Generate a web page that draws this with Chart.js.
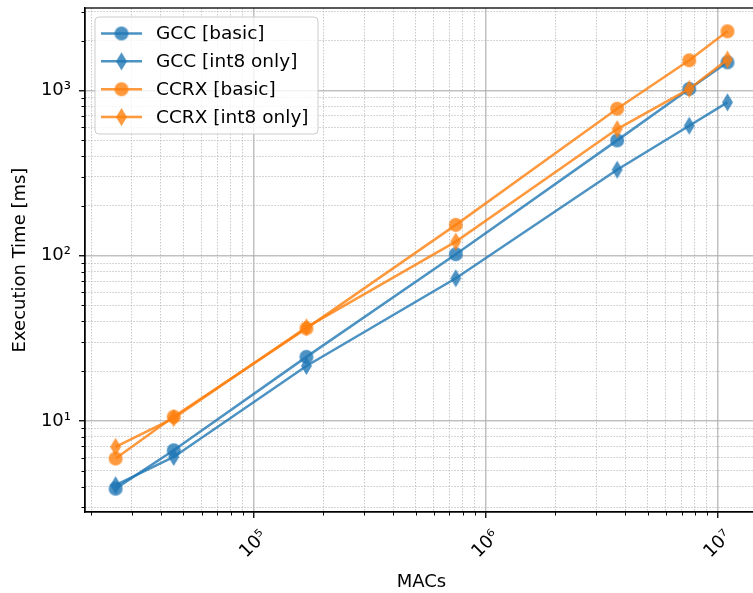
<!DOCTYPE html>
<html><head><meta charset="utf-8">
<script src="https://cdn.jsdelivr.net/npm/chart.js@4"></script>
<style>
html,body{margin:0;padding:0;overflow:hidden;background:#fff;width:753px;height:593px}
#wrap{width:765px;height:593px}
</style></head>
<body><div id="wrap"><canvas id="c" width="765" height="593"></canvas></div>
<script>
// ---- data ----
const macs      = [25500, 45400, 169400, 745700, 3696000, 7557000, 11040000];
const gccBasic  = [3.89, 6.64, 24.4, 102, 498, 1020, 1478];
const gccInt8   = [4.08, 6.05, 21.5, 72.9, 331, 611, 846];
const ccrxBasic = [5.92, 10.6, 36.3, 153.5, 774, 1520, 2278];
const ccrxInt8  = [6.96, 10.4, 36.8, 121.6, 583, 1020, 1535];
const seriesNames = ['GCC [basic]', 'GCC [int8 only]', 'CCRX [basic]', 'CCRX [int8 only]'];
const xTitle = 'MACs';
const yTitle = 'Execution Time [ms]';
const xRange = [18830, 14950000];
const yRange = [2.81, 3150];

// ---- styling ----
const BLUE = 'rgba(31,119,180,0.8)';
const ORANGE = 'rgba(255,127,14,0.8)';
const FONT = 'DejaVu Sans';
const SUP = '⁰¹²³⁴⁵⁶⁷⁸⁹';

function isMajor(v){ const l = Math.log10(v); return Math.abs(l - Math.round(l)) < 1e-9; }
function supLabel(v){ const e = Math.round(Math.log10(v)); return '10' + String(e).split('').map(c => SUP[+c]).join(''); }
function logTicks(min, max){
  const out = [];
  for (let e = Math.floor(Math.log10(min)); e <= Math.ceil(Math.log10(max)); e++){
    for (let k = 1; k <= 9; k++){
      const v = k * Math.pow(10, e);
      if (v >= min && v <= max) out.push({value: v, major: k === 1});
    }
  }
  return out;
}
function circleImg(color, d){
  const c = document.createElement('canvas'); c.width = d + 2; c.height = d + 2;
  const g = c.getContext('2d'); g.fillStyle = color; g.beginPath();
  g.arc(c.width/2, c.height/2, d/2, 0, Math.PI*2); g.fill(); return c;
}
function diamondImg(color, w, h){
  const c = document.createElement('canvas'); c.width = w + 2; c.height = h + 2;
  const g = c.getContext('2d'); g.fillStyle = color; g.beginPath();
  const cx = c.width/2, cy = c.height/2;
  g.moveTo(cx, cy - h/2); g.lineTo(cx + w/2, cy); g.lineTo(cx, cy + h/2); g.lineTo(cx - w/2, cy); g.closePath(); g.fill(); return c;
}
const markers = [circleImg(BLUE, 14), diamondImg(BLUE, 11, 18), circleImg(ORANGE, 14), diamondImg(ORANGE, 11, 18)];
const colors = [BLUE, BLUE, ORANGE, ORANGE];
const seriesData = [gccBasic, gccInt8, ccrxBasic, ccrxInt8];

const datasets = seriesData.map((ys, i) => ({
  label: seriesNames[i],
  data: macs.map((x, j) => ({x: x, y: ys[j]})),
  borderColor: colors[i],
  backgroundColor: colors[i],
  borderWidth: 2.5,
  pointStyle: markers[i],
  pointRadius: 7,
  pointBorderWidth: 0,
  order: 4 - i,
  fill: false,
  tension: 0
}));

const gridColor = ctx => (ctx.tick && isMajor(ctx.tick.value)) ? 'rgba(176,176,176,0.8)' : 'rgba(176,176,176,0.7)';
const gridWidth = ctx => (ctx.tick && isMajor(ctx.tick.value)) ? 1.5 : 1;
const gridDash = ctx => (ctx.tick && isMajor(ctx.tick.value)) ? [] : [1.5, 1.5];
const tickColor = ctx => (ctx.tick && isMajor(ctx.tick.value)) ? '#000' : 'rgba(0,0,0,0)';

const framePlugin = {
  id: 'frame',
  afterDraw(chart){
    const ctx = chart.ctx, a = chart.chartArea;
    ctx.save();
    // minor ticks
    ctx.strokeStyle = '#000'; ctx.lineWidth = 1;
    chart.scales.x.ticks.forEach(t => { if (!isMajor(t.value)) {
      const px = Math.round(chart.scales.x.getPixelForValue(t.value)) + 0.5;
      ctx.beginPath(); ctx.moveTo(px, a.bottom); ctx.lineTo(px, a.bottom + 3.5); ctx.stroke(); } });
    chart.scales.y.ticks.forEach(t => { if (!isMajor(t.value)) {
      const py = Math.round(chart.scales.y.getPixelForValue(t.value)) + 0.5;
      ctx.beginPath(); ctx.moveTo(a.left - 3.5, py); ctx.lineTo(a.left, py); ctx.stroke(); } });
    // spines
    ctx.lineWidth = 1.3; ctx.strokeStyle = '#000';
    ctx.strokeRect(a.left, a.top, a.right - a.left, a.bottom - a.top);
    // legend
    const bx = 95, by = 17, bw = 223, bh = 117, r = 4;
    ctx.beginPath();
    ctx.moveTo(bx + r, by); ctx.lineTo(bx + bw - r, by); ctx.quadraticCurveTo(bx + bw, by, bx + bw, by + r);
    ctx.lineTo(bx + bw, by + bh - r); ctx.quadraticCurveTo(bx + bw, by + bh, bx + bw - r, by + bh);
    ctx.lineTo(bx + r, by + bh); ctx.quadraticCurveTo(bx, by + bh, bx, by + bh - r);
    ctx.lineTo(bx, by + r); ctx.quadraticCurveTo(bx, by, bx + r, by); ctx.closePath();
    ctx.fillStyle = 'rgba(255,255,255,0.8)'; ctx.fill();
    ctx.strokeStyle = '#cccccc'; ctx.lineWidth = 1; ctx.stroke();
    ctx.font = '18.5px "' + FONT + '"'; ctx.textBaseline = 'middle'; ctx.textAlign = 'left';
    seriesNames.forEach((name, i) => {
      const y = 33.5 + i * 27.85;
      ctx.strokeStyle = colors[i]; ctx.lineWidth = 2.5;
      ctx.beginPath(); ctx.moveTo(101, y); ctx.lineTo(142, y); ctx.stroke();
      const m = markers[i];
      ctx.drawImage(m, 121.5 - m.width/2, y - m.height/2);
      ctx.fillStyle = '#000'; ctx.fillText(name, 156, y + 1);
    });
    ctx.restore();
  }
};

new Chart(document.getElementById('c'), {
  type: 'line',
  data: {datasets: datasets},
  options: {
    responsive: false,
    animation: false,
    devicePixelRatio: 1,
    layout: {padding: {left: 0, top: 8, right: 5, bottom: 0}},
    plugins: {legend: {display: false}, tooltip: {enabled: false}},
    scales: {
      x: {
        type: 'logarithmic', min: xRange[0], max: xRange[1], bounds: 'data',
        afterBuildTicks: s => { s.ticks = logTicks(s.min, s.max); },
        afterFit: s => { s.height = 81; s.paddingLeft = 0; s.paddingRight = 0; },
        ticks: {autoSkip: false, minRotation: 45, maxRotation: 45, labelOffset: 11, padding: 8,
          color: '#000', font: {family: FONT, size: 18},
          callback: (v) => isMajor(v) ? supLabel(v) : ''},
        grid: {color: gridColor, lineWidth: gridWidth, tickLength: 6, tickColor: tickColor, tickWidth: 1.3},
        border: {display: true, color: '#000', width: 1.3, dash: gridDash},
        title: {display: true, text: xTitle, color: '#000', font: {family: FONT, size: 18}, padding: {top: 0, bottom: 0}}
      },
      y: {
        type: 'logarithmic', min: yRange[0], max: yRange[1], bounds: 'data',
        afterBuildTicks: s => { s.ticks = logTicks(s.min, s.max); },
        afterFit: s => { s.width = 85; s.paddingTop = 0; s.paddingBottom = 0; },
        ticks: {autoSkip: false, padding: 8, color: '#000', font: {family: FONT, size: 18},
          callback: (v) => isMajor(v) ? supLabel(v) : ''},
        grid: {color: gridColor, lineWidth: gridWidth, tickLength: 6, tickColor: tickColor, tickWidth: 1.3},
        border: {display: true, color: '#000', width: 1.3, dash: gridDash},
        title: {display: true, text: yTitle, color: '#000', font: {family: FONT, size: 18}, padding: {top: 10, bottom: 0}}
      }
    }
  },
  plugins: [framePlugin]
});
</script>
</body></html>
